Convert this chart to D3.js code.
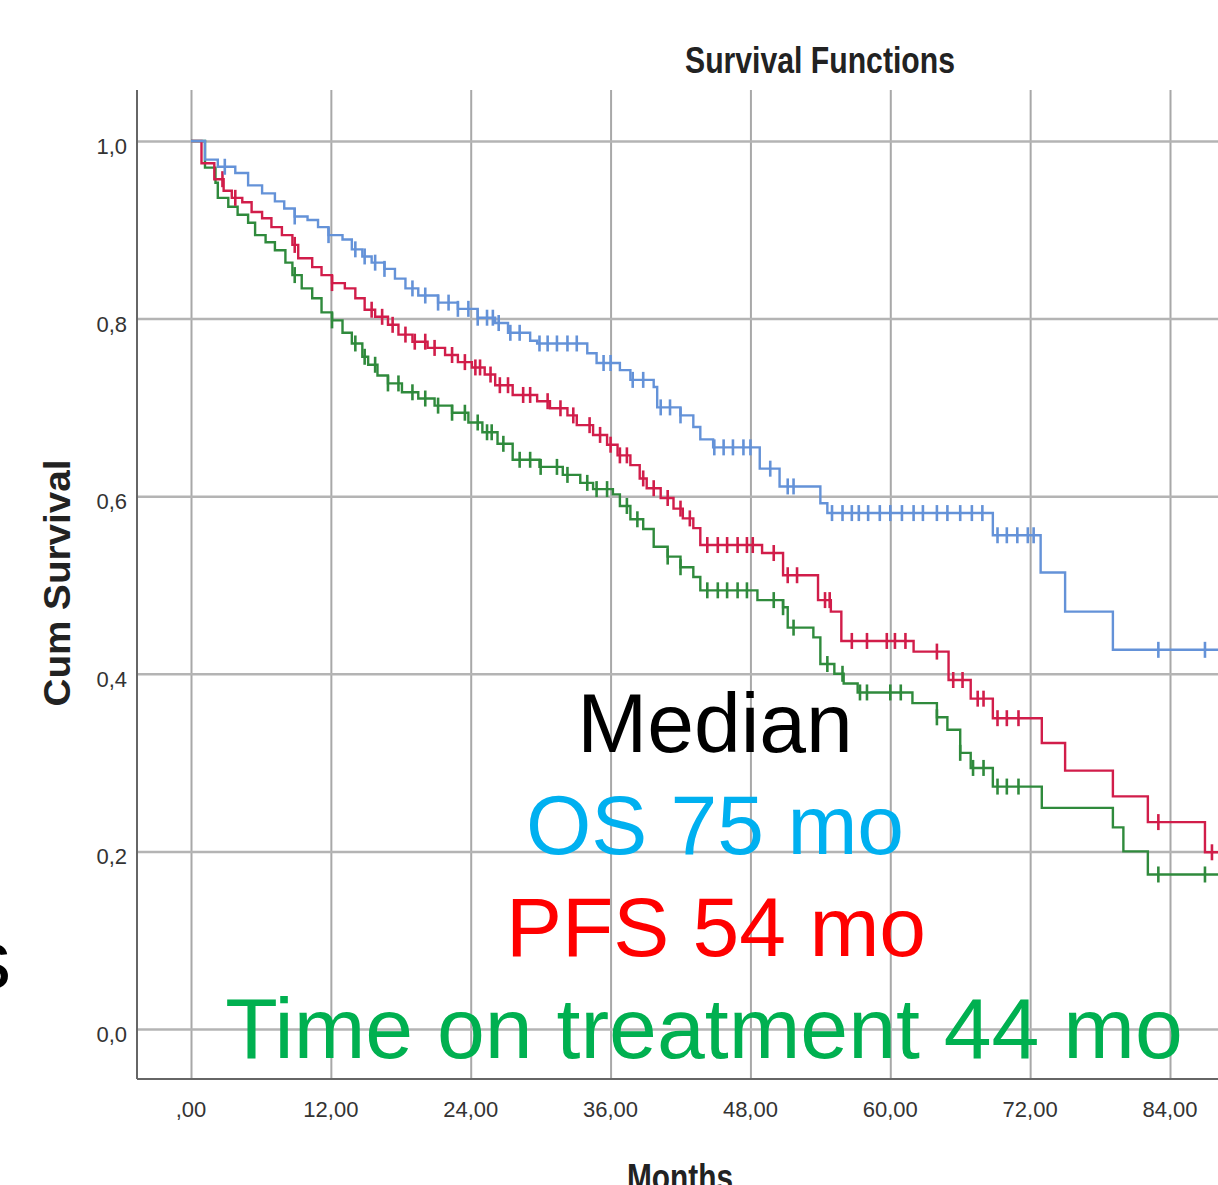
<!DOCTYPE html>
<html lang="en">

<head>
    <meta charset="UTF-8" />
    <title>Survival Functions</title>
    <script src="https://d3js.org/d3.v7.js"></script>
    <style>
        body { margin: 0; background: #fff; }
        text { font-family: Arial, "Liberation Sans", sans-serif; }
    </style>
</head>

<body>
    <svg id="km-chart"></svg>
</body>

<script>
    // months at each event step, and survival right after the step
    var osTimes = [1.2, 2.3, 3.8, 4.9, 6.1, 7.2, 8.0, 8.9, 10.0, 10.9, 11.8, 13.0, 13.8, 14.7, 15.5, 16.6, 17.5, 18.4, 19.5, 21.2, 22.9, 24.6, 26.1, 27.2, 29.1, 29.7, 34.0, 34.8, 36.8, 37.7, 39.7, 40.0, 42.0, 43.1, 43.7, 44.8, 48.8, 50.5, 54.0, 54.6, 68.8, 72.9, 75.0, 79.1];
    var osSurv = [0.979, 0.971, 0.964, 0.950, 0.941, 0.932, 0.924, 0.915, 0.911, 0.903, 0.894, 0.889, 0.878, 0.870, 0.863, 0.856, 0.845, 0.834, 0.826, 0.818, 0.811, 0.801, 0.795, 0.784, 0.775, 0.772, 0.761, 0.750, 0.742, 0.731, 0.723, 0.700, 0.691, 0.678, 0.664, 0.655, 0.631, 0.611, 0.592, 0.581, 0.556, 0.514, 0.470, 0.427];
    var osCensor = [2.9, 8.9, 11.8, 14.1, 14.9, 15.8, 16.6, 19.0, 20.1, 21.2, 22.1, 22.9, 23.8, 24.6, 25.4, 25.9, 26.4, 27.4, 28.2, 29.9, 30.6, 31.4, 32.3, 33.1, 35.4, 36.0, 37.9, 38.8, 40.3, 41.1, 42.0, 44.9, 45.7, 46.5, 47.4, 48.0, 49.7, 51.2, 51.7, 55.0, 55.9, 56.7, 57.3, 58.1, 59.1, 60.0, 61.0, 62.0, 62.8, 64.0, 64.9, 66.0, 67.0, 67.9, 69.2, 70.0, 70.9, 71.8, 72.3, 83.0, 87.0];

    var pfsTimes = [0.9, 2.0, 2.8, 3.5, 4.4, 5.2, 6.1, 6.9, 7.8, 8.7, 9.2, 10.4, 11.2, 12.1, 13.2, 14.1, 14.9, 15.8, 16.9, 17.8, 19.0, 20.3, 21.8, 22.9, 24.1, 25.2, 26.1, 27.6, 29.7, 30.8, 32.3, 33.1, 34.5, 35.7, 36.6, 37.7, 38.5, 39.1, 40.3, 41.4, 42.2, 43.1, 43.7, 49.0, 50.8, 53.8, 54.9, 55.8, 62.0, 65.0, 66.9, 68.8, 73.0, 75.0, 79.1, 82.1, 87.0];
    var pfsSurv = [0.975, 0.957, 0.944, 0.936, 0.931, 0.920, 0.913, 0.903, 0.894, 0.883, 0.868, 0.858, 0.849, 0.840, 0.834, 0.823, 0.810, 0.802, 0.793, 0.782, 0.774, 0.767, 0.759, 0.751, 0.745, 0.737, 0.725, 0.714, 0.707, 0.699, 0.691, 0.680, 0.669, 0.658, 0.646, 0.635, 0.620, 0.609, 0.598, 0.586, 0.575, 0.564, 0.545, 0.536, 0.511, 0.483, 0.470, 0.437, 0.425, 0.393, 0.372, 0.350, 0.322, 0.291, 0.262, 0.233, 0.199];
    var pfsCensor = [2.7, 3.8, 8.9, 12.1, 15.5, 16.4, 17.3, 18.4, 19.2, 20.1, 20.9, 22.4, 23.5, 24.4, 24.8, 25.7, 26.5, 27.2, 28.5, 29.1, 30.6, 31.7, 32.8, 34.2, 35.1, 36.0, 36.8, 37.4, 38.8, 39.7, 40.9, 42.0, 42.8, 44.3, 45.2, 46.0, 46.9, 47.7, 48.2, 50.0, 51.2, 52.0, 54.4, 54.8, 56.7, 58.0, 59.7, 60.4, 61.3, 64.0, 65.4, 66.2, 67.5, 68.0, 69.2, 70.0, 71.0, 83.0, 87.6];

    var totTimes = [1.2, 2.1, 2.3, 3.2, 4.0, 4.9, 5.5, 6.4, 7.2, 8.1, 8.7, 9.5, 10.4, 11.2, 12.1, 13.0, 13.8, 14.7, 15.2, 16.0, 16.9, 18.1, 19.5, 20.9, 22.4, 23.8, 25.0, 26.3, 27.6, 29.9, 31.9, 33.4, 34.5, 36.2, 36.8, 37.7, 38.8, 39.7, 40.9, 42.0, 43.1, 43.7, 48.6, 50.8, 51.2, 53.4, 54.0, 55.2, 56.0, 57.2, 61.9, 64.0, 64.9, 66.0, 66.9, 68.8, 73.0, 79.1, 80.0, 82.1];
    var totSurv = [0.970, 0.953, 0.936, 0.926, 0.917, 0.908, 0.894, 0.886, 0.877, 0.863, 0.849, 0.834, 0.823, 0.807, 0.798, 0.784, 0.772, 0.757, 0.748, 0.736, 0.727, 0.717, 0.710, 0.702, 0.694, 0.683, 0.672, 0.659, 0.641, 0.633, 0.624, 0.615, 0.608, 0.602, 0.589, 0.574, 0.563, 0.543, 0.532, 0.520, 0.509, 0.494, 0.483, 0.475, 0.452, 0.441, 0.411, 0.400, 0.389, 0.379, 0.367, 0.351, 0.337, 0.311, 0.294, 0.273, 0.249, 0.227, 0.200, 0.174];
    var totCensor = [8.9, 12.1, 14.1, 14.9, 15.8, 16.9, 17.8, 19.0, 20.1, 21.2, 22.4, 23.5, 24.6, 25.4, 25.8, 26.8, 28.2, 29.1, 30.0, 31.4, 32.3, 34.0, 34.8, 35.7, 37.4, 38.3, 40.9, 42.0, 44.3, 45.2, 46.0, 46.9, 47.7, 50.0, 50.8, 51.7, 54.6, 55.9, 57.4, 58.0, 60.0, 60.9, 64.0, 66.0, 67.1, 68.0, 69.2, 70.0, 71.0, 83.0, 87.0];

    var xTicks = [0, 12, 24, 36, 48, 60, 72, 84];
    var yTicks = [0, 0.2, 0.4, 0.6, 0.8, 1.0];
    var lastFollowUp = 90;

    var medianLines = ["Median", "OS 75 mo", "PFS 54 mo", "Time on treatment 44 mo"];
    var medianColors = ["#000000", "#00b0f0", "#ff0000", "#00b050"];

    var width = 1218;
    var height = 1185;

    var svg = d3.select("#km-chart")
        .attr("width", width)
        .attr("height", height);

    var x = d3.scaleLinear().domain([0, 84]).range([191, 1170]);
    var y = d3.scaleLinear().domain([0, 1]).range([1029, 141]);

    var axisLeftX = 137, axisBottomY = 1079, frameTop = 90;

    // grid
    svg.append("g")
        .attr("transform", `translate(0,${axisBottomY})`)
        .call(d3.axisBottom(x).tickValues(xTicks).tickSize(-(axisBottomY - frameTop)).tickFormat(""))
        .call(g => g.select(".domain").remove())
        .selectAll("line").attr("stroke", "#a8a8a8").attr("stroke-width", 2);

    svg.append("g")
        .attr("transform", `translate(${axisLeftX},0)`)
        .call(d3.axisLeft(y).tickValues(yTicks).tickSize(-(width - axisLeftX)).tickFormat(""))
        .call(g => g.select(".domain").remove())
        .selectAll("line").attr("stroke", "#b4b4b4").attr("stroke-width", 2.5);

    // axis lines
    svg.append("line").attr("x1", axisLeftX).attr("x2", axisLeftX).attr("y1", frameTop).attr("y2", axisBottomY)
        .attr("stroke", "#666").attr("stroke-width", 2);
    svg.append("line").attr("x1", axisLeftX).attr("x2", width).attr("y1", axisBottomY).attr("y2", axisBottomY)
        .attr("stroke", "#666").attr("stroke-width", 2);

    // tick labels
    svg.selectAll(".ylab").data(yTicks).enter().append("text")
        .attr("x", 127).attr("y", d => y(d) + 13)
        .attr("text-anchor", "end").attr("font-size", 22).attr("fill", "#333")
        .text(d => d.toFixed(1).replace(".", ","));

    svg.selectAll(".xlab").data(xTicks).enter().append("text")
        .attr("x", d => x(d)).attr("y", 1117)
        .attr("text-anchor", "middle").attr("font-size", 22).attr("fill", "#333")
        .text(d => d === 0 ? ",00" : d.toFixed(2).replace(".", ","));

    // titles
    svg.append("text").attr("x", 820).attr("y", 73).attr("text-anchor", "middle")
        .attr("font-size", 36).attr("font-weight", "bold").attr("fill", "#222")
        .attr("textLength", 270).attr("lengthAdjust", "spacingAndGlyphs")
        .text("Survival Functions");

    svg.append("text").attr("transform", "translate(70,583) rotate(-90)").attr("text-anchor", "middle")
        .attr("font-size", 36).attr("font-weight", "bold").attr("fill", "#222")
        .attr("textLength", 247).attr("lengthAdjust", "spacingAndGlyphs")
        .text("Cum Survival");

    // partly below the bottom edge, as in the source image
    svg.append("text").attr("x", 680).attr("y", 1190).attr("text-anchor", "middle")
        .attr("font-size", 36).attr("font-weight", "bold").attr("fill", "#222")
        .attr("textLength", 106).attr("lengthAdjust", "spacingAndGlyphs")
        .text("Months");

    // curves
    var series = [
        { times: totTimes, surv: totSurv, censor: totCensor, color: "#2f8a3c" },
        { times: pfsTimes, surv: pfsSurv, censor: pfsCensor, color: "#d11d4a" },
        { times: osTimes, surv: osSurv, censor: osCensor, color: "#6492d8" }
    ];

    function survAt(s, t) {
        var v = 1;
        for (var i = 0; i < s.times.length; i++) {
            if (s.times[i] <= t) v = s.surv[i];
        }
        return v;
    }

    var line = d3.line()
        .x(d => x(d[0]))
        .y(d => y(d[1]))
        .curve(d3.curveStepAfter);

    series.forEach(function (s) {
        var pts = [[0, 1]];
        s.times.forEach((t, i) => pts.push([t, s.surv[i]]));
        pts.push([lastFollowUp, s.surv[s.surv.length - 1]]);

        svg.append("path")
            .datum(pts)
            .attr("d", line)
            .attr("fill", "none")
            .attr("stroke", s.color)
            .attr("stroke-width", 2.4);

        svg.append("g").selectAll("line")
            .data(s.censor)
            .enter()
            .append("line")
            .attr("x1", d => x(d)).attr("x2", d => x(d))
            .attr("y1", d => y(survAt(s, d)) - 8)
            .attr("y2", d => y(survAt(s, d)) + 8)
            .attr("stroke", s.color)
            .attr("stroke-width", 2.6);
    });

    // median annotation
    var lineX = [715, 715, 716, 704];
    var lineSize = [84, 84, 84, 86];
    svg.selectAll(".median").data(medianLines).enter().append("text")
        .attr("x", (d, i) => lineX[i])
        .attr("y", (d, i) => 752 + i * 102)
        .attr("text-anchor", "middle")
        .attr("font-size", (d, i) => lineSize[i])
        .attr("fill", (d, i) => medianColors[i])
        .text(d => d);

    // letter cut off at the left edge, as in the source image
    svg.append("text").attr("x", -31).attr("y", 988).attr("font-size", 84).attr("fill", "#000").text("s");
</script>

</html>
